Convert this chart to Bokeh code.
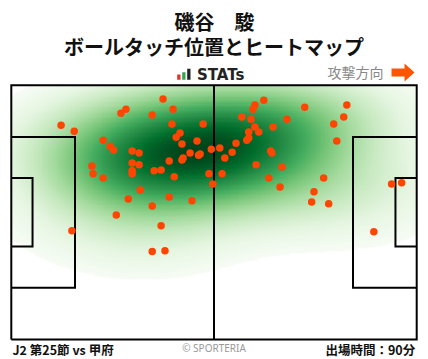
import numpy as np
from bokeh.plotting import figure
from bokeh.models import LinearColorMapper, Range1d
from bokeh.palettes import Greens256
from bokeh.core.properties import value
from bokeh.embed import file_html
from bokeh.resources import INLINE

# ---------------- data ----------------
player_name = "磯谷　駿"
chart_title = "ボールタッチ位置とヒートマップ"
match_label = "J2 第25節 vs 甲府"
minutes_label = "出場時間：90分"
direction_label = "攻撃方向"
credit_label = "© SPORTERIA"
logo_label = "STATs"

# pitch in metres (105 x 68), attacking left -> right
pitch_length = 105.0
pitch_width = 68.0

# ball-touch positions (metres from own goal line / from bottom touchline)
touch_x = [39.3, 29.7, 28.4, 41.9, 36.5, 12.9, 16.3, 41.6, 49.7, 43.7,
           42.7, 23.8, 25.6, 26.5, 44.2, 48.1, 31.3, 33.1, 46.3, 48.9,
           48.5, 44.5, 44.2, 51.8, 40.9, 31.3, 33.1, 20.9, 21.2, 31.3,
           31.3, 37.0, 38.8, 23.8, 42.2, 51.2, 52.2, 33.4, 30.3, 40.9,
           46.8, 36.5, 27.2, 38.8, 36.5, 39.8, 15.7,
           65.4, 63.1, 62.6, 59.7, 62.1, 76.0, 86.9, 86.1, 71.4, 83.5,
           63.1, 67.8, 61.5, 64.1, 61.5, 61.0, 84.3, 58.2, 54.0, 57.2,
           55.3, 67.2, 67.5, 63.4, 70.1, 54.6, 66.7, 80.9, 69.6, 78.4,
           77.8, 82.2, 98.5, 101.1, 93.9]
touch_y = [64.3, 61.6, 60.5, 61.6, 60.0, 57.3, 55.7, 57.6, 57.6, 55.2,
           54.1, 53.3, 51.7, 50.7, 52.3, 53.1, 50.4, 49.9, 49.9, 49.6,
           49.3, 48.5, 48.0, 50.9, 47.7, 47.2, 46.7, 46.4, 44.3, 45.1,
           44.3, 45.1, 45.3, 43.2, 43.5, 44.3, 41.6, 40.0, 37.6, 38.1,
           37.1, 35.7, 33.3, 30.4, 23.5, 23.7, 29.1,
           64.0, 62.7, 61.6, 59.5, 58.9, 62.1, 62.7, 59.5, 58.9, 57.6,
           56.8, 56.8, 55.5, 55.5, 53.9, 53.3, 53.1, 52.5, 51.2, 50.1,
           48.5, 50.4, 49.9, 46.7, 46.1, 44.3, 43.2, 43.2, 40.8, 39.5,
           36.8, 36.3, 41.6, 41.9, 28.8]

# ---------------- layout helpers (page pixels -> data) ----------------
OX, OY = 0, 0
W, H = 428, 359
PX0, PX1 = 10.8, 416.2
PY0, PY1 = 84.7, 339.0
SX = (PX1 - PX0) / pitch_length
SY = (PY1 - PY0) / pitch_width


def X(px):
    return (px - PX0) / SX


def Y(py):
    return (PY1 - py) / SY


p = figure(width=W, height=H, output_backend="svg", toolbar_location=None,
           x_range=Range1d(X(OX), X(OX + W)), y_range=Range1d(Y(OY + H), Y(OY)),
           x_axis_location=None, y_axis_location=None, min_border=0,
           outline_line_color=None)
p.grid.visible = False
p.background_fill_color = "white"
p.border_fill_color = "white"

# ---------------- heat map (Gaussian KDE of touches) ----------------
pts = np.vstack([touch_x, touch_y])
n = pts.shape[1]
bw = 1.8 * n ** (-1.0 / 6.0)
cov = np.cov(pts) * bw ** 2
inv = np.linalg.inv(cov)
gx = np.linspace(0, pitch_length, 316)
gy = np.linspace(0, pitch_width, 205)
GX, GY = np.meshgrid(gx, gy)
dx = GX[..., None] - pts[0]
dy = GY[..., None] - pts[1]
q = inv[0, 0] * dx * dx + 2 * inv[0, 1] * dx * dy + inv[1, 1] * dy * dy
dens = np.exp(-0.5 * q).sum(-1)
flat = np.sort(dens.ravel())[::-1]
cum = np.cumsum(flat) / flat.sum()
thr = flat[np.searchsorted(cum, 0.985)]
shade = dens ** 0.8
img = np.where(dens >= thr, shade, np.nan)


def lum(c):
    return int(c[1:3], 16) * 0.3 + int(c[3:5], 16) * 0.59 + int(c[5:7], 16) * 0.11


pal = sorted(Greens256, key=lum, reverse=True)
mapper = LinearColorMapper(palette=pal, low=thr ** 0.8, high=float(shade.max()),
                           nan_color=(0, 0, 0, 0))
p.image(image=[img], x=0, y=0, dw=pitch_length, dh=pitch_width,
        color_mapper=mapper)

# ---------------- pitch lines ----------------
pa_d, pa_w = 16.5, 40.32
ga_d, ga_w = 5.5, 18.32
cy = pitch_width / 2
xs = [
    [0, pitch_length, pitch_length, 0, 0],
    [pitch_length / 2, pitch_length / 2],
    [0, pa_d, pa_d, 0],
    [0, ga_d, ga_d, 0],
    [pitch_length, pitch_length - pa_d, pitch_length - pa_d, pitch_length],
    [pitch_length, pitch_length - ga_d, pitch_length - ga_d, pitch_length],
]
ys = [
    [0, 0, pitch_width, pitch_width, 0],
    [0, pitch_width],
    [cy + pa_w / 2, cy + pa_w / 2, cy - pa_w / 2, cy - pa_w / 2],
    [cy + ga_w / 2, cy + ga_w / 2, cy - ga_w / 2, cy - ga_w / 2],
    [cy + pa_w / 2, cy + pa_w / 2, cy - pa_w / 2, cy - pa_w / 2],
    [cy + ga_w / 2, cy + ga_w / 2, cy - ga_w / 2, cy - ga_w / 2],
]
p.multi_line(xs=xs, ys=ys, line_color="black", line_width=2, line_join="miter")

# ---------------- touches ----------------
p.scatter(x=touch_x, y=touch_y, size=7.5, fill_color="#ff4500", line_color=None)

# ---------------- texts ----------------
JP = value("Noto Sans CJK JP")
p.text(x=[X(214)], y=[Y(20.5)], text=[player_name], text_font=JP,
       text_font_style="bold", text_font_size="20px", text_align="center",
       text_baseline="middle", text_color="#111111")
p.text(x=[X(213.5)], y=[Y(46)], text=[chart_title], text_font=JP,
       text_font_style="bold", text_font_size="20px", text_align="center",
       text_baseline="middle", text_color="#111111")
p.text(x=[X(196.5)], y=[Y(74)], text=[logo_label], text_font=value("DejaVu Sans"),
       text_font_style="bold", text_font_size="15px", text_align="left",
       text_baseline="middle", text_color="#222222")
p.text(x=[X(327)], y=[Y(71)], text=[direction_label], text_font=JP,
       text_font_size="14px", text_align="left", text_baseline="middle",
       text_color="#888888")
p.text(x=[X(12)], y=[Y(348.5)], text=[match_label], text_font=JP,
       text_font_style="bold", text_font_size="12.5px", text_align="left",
       text_baseline="middle", text_color="#111111")
p.text(x=[X(414.7)], y=[Y(348.5)], text=[minutes_label], text_font=JP,
       text_font_style="bold", text_font_size="12.5px", text_align="right",
       text_baseline="middle", text_color="#111111")
p.text(x=[X(213.5)], y=[Y(347)], text=[credit_label], text_font=value("Noto Sans"),
       text_font_size="10px", text_align="center", text_baseline="middle",
       text_color="#999999")

# logo bars
p.quad(left=[X(176.7), X(181.7), X(186.7)], right=[X(180), X(185), X(190)],
       bottom=[Y(79.3)] * 3, top=[Y(74), Y(71.7), Y(68.3)],
       fill_color=["#e8312a", "#2fa84f", "#222222"], line_color=None)

# direction arrow
ax = [X(391), X(404), X(404), X(414), X(404), X(404), X(391)]
ay = [Y(68), Y(68), Y(63), Y(72), Y(81), Y(76), Y(76)]
p.patch(x=ax, y=ay, fill_color="#ff5500", line_color=None)

open("out.html", "w").write(file_html(p, INLINE))
